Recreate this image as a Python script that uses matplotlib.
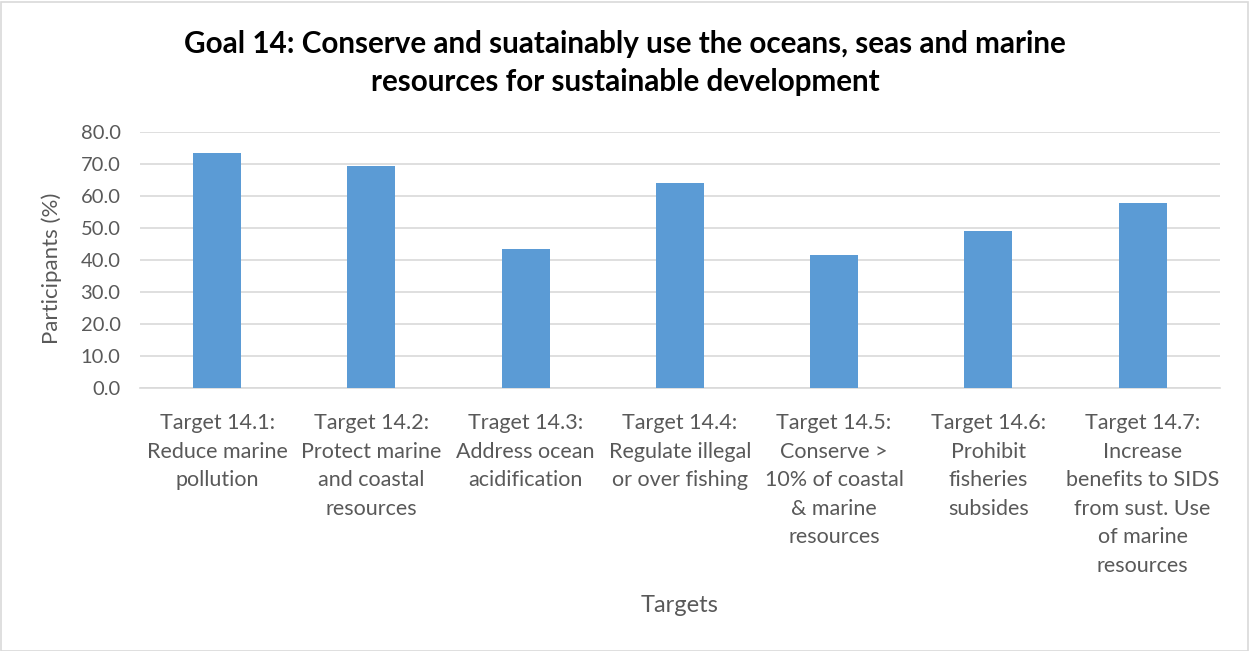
import matplotlib
matplotlib.use("Agg")
import matplotlib.pyplot as plt
from matplotlib.patches import Rectangle

plt.rcParams['font.family'] = ['Lato', 'DejaVu Sans']

categories = [
    "Target 14.1:\nReduce marine\npollution",
    "Target 14.2:\nProtect marine\nand coastal\nresources",
    "Traget 14.3:\nAddress ocean\nacidification",
    "Target 14.4:\nRegulate illegal\nor over fishing",
    "Target 14.5:\nConserve >\n10% of coastal\n& marine\nresources",
    "Target 14.6:\nProhibit\nfisheries\nsubsides",
    "Target 14.7:\nIncrease\nbenefits to SIDS\nfrom sust. Use\nof marine\nresources",
]
values = [73.4, 69.5, 43.4, 64.3, 41.6, 49.3, 57.8]
yticks = [0, 10, 20, 30, 40, 50, 60, 70, 80]

title = "Goal 14: Conserve and suatainably use the oceans, seas and marine\nresources for sustainable development"

W, H = 1249, 651
fig = plt.figure(figsize=(W / 100, H / 100), dpi=100)
fig.patch.set_facecolor("white")
fig.add_artist(Rectangle((0.5 / W, 0.5 / H), 1 - 2 / W, 1 - 2 / H, transform=fig.transFigure,
                         fill=False, edgecolor="#D9D9D9", linewidth=1.2))

ax = fig.add_axes([140 / W, 1 - 388.3 / H, (1219.7 - 140) / W, 256 / H])
x = list(range(len(values)))
ax.bar(x, values, width=0.312, color="#5B9BD5", zorder=3)
ax.set_xlim(-0.5, len(values) - 0.5)
ax.set_ylim(0, 80)
ax.set_yticks(yticks)
ax.set_yticklabels([f"{v:.1f}" for v in yticks], fontsize=14.5, color="#595959")
ax.set_xticks(x)
ax.set_xticklabels(categories, fontsize=15.5, color="#595959", linespacing=1.53, va="top")
ax.yaxis.grid(True, color="#D9D9D9", linewidth=1.2, zorder=0)
ax.tick_params(axis="both", length=0)
ax.tick_params(axis="x", pad=18)
ax.tick_params(axis="y", pad=14)
for s in ["top", "right", "left"]:
    ax.spines[s].set_visible(False)
ax.spines["bottom"].set_color("#D9D9D9")
ax.spines["bottom"].set_linewidth(1.2)

fig.text(52 / W, 1 - 268 / H, "Participants (%)", fontsize=16, color="#595959",
         ha="center", va="center", rotation=90)
fig.text(680 / W, 1 - 605 / H, "Targets", fontsize=17, color="#595959", ha="center", va="center")
fig.text(625 / W, 1 - 63 / H, title, fontsize=21.3, fontweight="bold", color="black",
         ha="center", va="center", linespacing=1.4)

fig.savefig("out.png", dpi=100)
